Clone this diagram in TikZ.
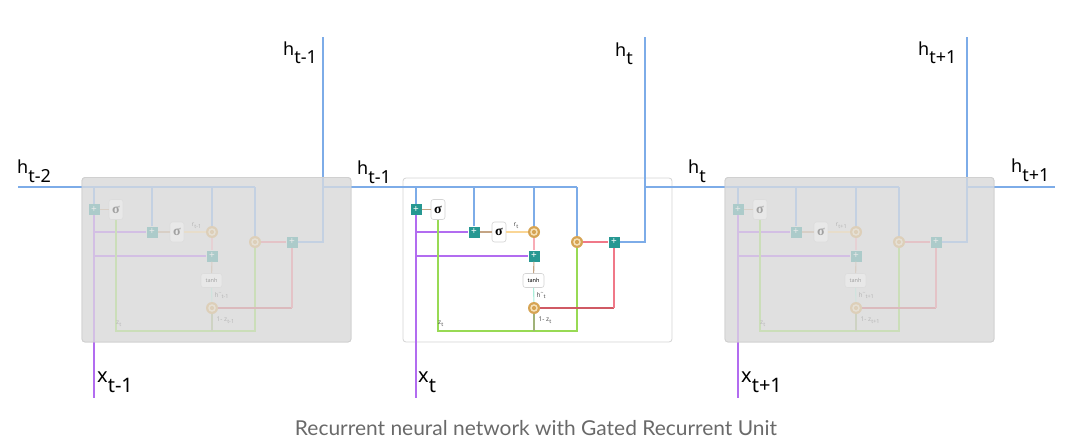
\documentclass[tikz,border=0pt]{standalone}
\usepackage{fontspec}
\usepackage{graphicx}
\setmainfont{Noto Sans}
\newfontfamily\sigfont{Liberation Serif}
\newfontfamily\capfont{Lato}
\definecolor{hblue}{RGB}{125,172,232}
\definecolor{teal1}{RGB}{38,152,146}
\definecolor{xpurp}{RGB}{178,108,240}
\definecolor{brownc}{RGB}{196,164,132}
\definecolor{peach}{RGB}{250,214,150}
\definecolor{pinkc}{RGB}{248,172,182}
\definecolor{mint}{RGB}{170,238,218}
\definecolor{greenc}{RGB}{152,218,84}
\definecolor{olive}{RGB}{160,178,120}
\definecolor{redd}{RGB}{208,90,100}
\definecolor{redl}{RGB}{240,120,136}
\definecolor{gold}{RGB}{214,164,84}
\definecolor{cream}{RGB}{246,226,186}
\definecolor{boxgray}{RGB}{212,212,212}
\definecolor{cellgray}{RGB}{224,224,224}
\definecolor{cellborder}{RGB}{208,208,208}
\definecolor{labgray}{RGB}{80,80,80}
\definecolor{capgray}{RGB}{105,105,105}
\newcommand\insub[2]{#1\raisebox{-1.8pt}{\fontsize{5.5}{5.5}\selectfont #2}}
\newcommand\htil{h\raisebox{3pt}{\fontsize{5}{5}\selectfont\textasciitilde}}
\newcommand\bigsub[3]{#1\raisebox{-#3}{#2}}
\tikzset{
  plusn/.style={rectangle, fill=teal1, minimum size=11pt, inner sep=0pt, text=white,
    font=\fontsize{10}{10}\selectfont\bfseries},
  sigbox/.style={rectangle, rounded corners=2.5pt, draw=boxgray, fill=white, line width=0.6pt,
    minimum width=14pt, minimum height=20pt, inner sep=0pt, font=\sigfont\bfseries\fontsize{14}{14}\selectfont},
  tanhbox/.style={rectangle, rounded corners=2.5pt, draw=boxgray, fill=white, line width=0.6pt,
    minimum width=21pt, minimum height=14pt, inner sep=0pt, font=\bfseries\fontsize{5.5}{5.5}\selectfont},
  hadn/.style={circle, fill=gold, minimum size=12pt, inner sep=0pt,
    path picture={\fill[cream] (path picture bounding box.center) circle (3.8pt);
                  \fill[gold] (path picture bounding box.center) circle (2.1pt);}},
  hb/.style={draw=hblue, line width=1.1pt},
  xp/.style={draw=xpurp, line width=1.1pt},
  xpv/.style={draw=xpurp, line width=1.8pt},
  wire/.style={line width=1.1pt},
  inlab/.style={anchor=west, inner sep=0pt, text=labgray, font=\fontsize{6.5}{6.5}\selectfont},
  biglab/.style={anchor=base west, inner sep=0pt, text=black, font=\fontsize{18}{18}\selectfont},
  xlab/.style={anchor=base west, inner sep=0pt, text=black, font=\fontsize{20}{20}\selectfont},
}
\newcommand\grucell[3]{%
\begin{scope}[xshift=#1pt]
  \coordinate (bz#2) at (577,187);
  \coordinate (hx#2) at (645,187);
  \coordinate (ho#2) at (645,242);
  \coordinate (ht#2) at (645,37);
  \coordinate (xb#2) at (416,398);
  \coordinate (gb#2) at (437,331);
  \node[plusn] (pA#2) at (416,209.5) {+};
  \node[sigbox] (sA#2) at (438,209.5) {σ};
  \node[plusn] (pB#2) at (474,232) {+};
  \node[sigbox] (sB#2) at (499,232) {σ};
  \node[hadn] (cR#2) at (534,232) {};
  \node[plusn] (pC#2) at (534,256) {+};
  \node[tanhbox] (th#2) at (533.5,280.5) {tanh};
  \node[hadn] (cH#2) at (534,308) {};
  \node[hadn] (cZ#2) at (577,242) {};
  \node[plusn] (pD#2) at (614,242) {+};
  % h bus drops
  \draw[hb] (pA#2) -- (pA#2 |- bz#2);
  \draw[hb] (pB#2) -- (pB#2 |- bz#2);
  \draw[hb] (cR#2) -- (cR#2 |- bz#2);
  \draw[hb] (cZ#2) -- (bz#2);
  \draw[hb] (pD#2) -- (ho#2) -- (ht#2);
  % x input
  \draw[xpv] (pA#2) -- (xb#2);
  \draw[xp] (pA#2 |- pB#2) -- (pB#2);
  \draw[xp] (pA#2 |- pC#2) -- (pC#2);
  % gates
  \draw[wire, brownc] (pA#2) -- (sA#2);
  \draw[wire, brownc] (pB#2) -- (sB#2);
  \draw[wire, brownc] (pC#2) -- (th#2);
  \draw[wire, peach] (sB#2) -- (cR#2);
  \draw[wire, pinkc] (cR#2) -- (pC#2);
  \draw[wire, mint] (th#2) -- (cH#2);
  \draw[wire, greenc] (sA#2) -- (sA#2 |- gb#2) -- (cZ#2 |- gb#2) -- (cZ#2);
  \draw[wire, olive] (cH#2) -- (cH#2 |- gb#2);
  \draw[wire, redd] (cH#2) -- (pD#2 |- cH#2);
  \draw[wire, redl] (pD#2 |- cH#2) -- (pD#2);
  \draw[wire, redl] (cZ#2) -- (pD#2);
  % labels
  \node[inlab] (lr#2) at (513.5,226) {\insub{r}{#3}};
  \node[inlab] (lh#2) at (536.5,295.5) {\insub{\htil}{#3}};
  \node[inlab] (lz#2) at (538.5,320) {1- \insub{z}{#3}};
  \node[inlab] (lzt#2) at (438,324) {\insub{z}{t}};
\end{scope}}
\begin{document}
\begin{tikzpicture}[x=1pt,y=-1pt]
  \useasboundingbox (0,0) rectangle (1090,447);
  % cell boxes
  \draw[fill=cellgray, draw=cellborder, line width=0.8pt, rounded corners=3pt] (82,177.5) rectangle (351,342);
  \draw[fill=white, draw=boxgray, line width=0.8pt, rounded corners=3pt] (403,178) rectangle (672,342);
  \draw[fill=cellgray, draw=cellborder, line width=0.8pt, rounded corners=3pt] (725,177.5) rectangle (994,342);
  \coordinate (hin) at (18,187);
  \coordinate (hend) at (1055,187);
  \grucell{-322}{L}{t-1}
  \grucell{0}{M}{t}
  \grucell{322}{R}{t+1}
  % hidden-state bus between cells
  \draw[hb] (hin) -- (bzL);
  \draw[hb] (hxL) -- (bzM);
  \draw[hb] (hxM) -- (bzR);
  \draw[hb] (hxR) -- (hend);
  % fade the outer cells
  \fill[cellgray, fill opacity=0.72, rounded corners=3pt] (82,177.5) rectangle (351,342);
  \draw[draw=cellborder, line width=0.8pt, rounded corners=3pt] (82,177.5) rectangle (351,342);
  \fill[cellgray, fill opacity=0.72, rounded corners=3pt] (725,177.5) rectangle (994,342);
  \draw[draw=cellborder, line width=0.8pt, rounded corners=3pt] (725,177.5) rectangle (994,342);
  % outer labels
  \node[biglab] (Lh2) at (17,173) {\bigsub{h}{t-2}{9pt}};
  \node[biglab] (Lh1t) at (283,55) {\bigsub{h}{t-1}{9pt}};
  \node[biglab] (Lh1r) at (357,174) {\bigsub{h}{t-1}{9pt}};
  \node[biglab] (Lhtt) at (615,56) {\bigsub{h}{t}{9pt}};
  \node[biglab] (Lhtr) at (688,173) {\bigsub{h}{t}{9pt}};
  \node[biglab] (Lh3t) at (918,55) {\bigsub{h}{t+1}{9pt}};
  \node[biglab] (Lh3r) at (1011,172) {\bigsub{h}{t+1}{9pt}};
  \node[xlab] (Lx1) at (97,382) {\bigsub{x}{t-1}{10pt}};
  \node[xlab] (Lx2) at (418,382) {\bigsub{x}{t}{10pt}};
  \node[xlab] (Lx3) at (741,382) {\bigsub{x}{t+1}{10pt}};
  % caption
  \node[anchor=base, inner sep=0pt, text=capgray, font=\capfont\fontsize{20.5}{20.5}\selectfont] (cap) at (536,435.5)
    {\resizebox{482pt}{\height}{Recurrent neural network with Gated Recurrent Unit}};
\end{tikzpicture}
\end{document}
